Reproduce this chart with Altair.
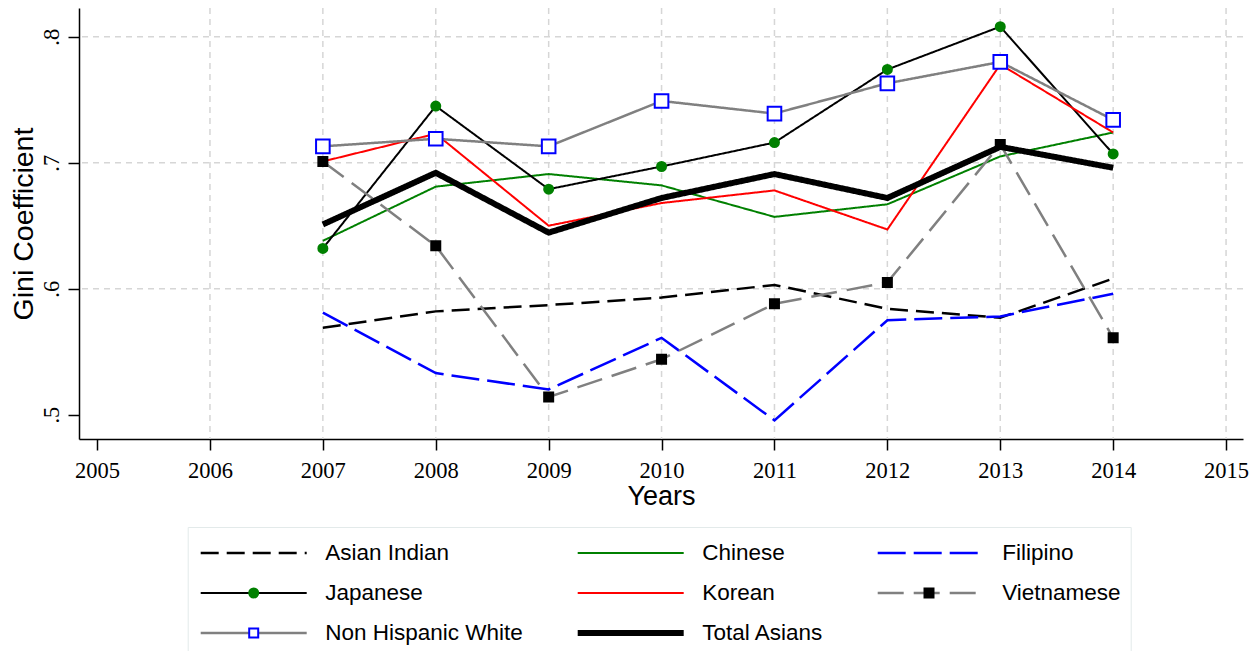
import altair as alt
import pandas as pd

# ---------------- data ----------------
years = [2007, 2008, 2009, 2010, 2011, 2012, 2013, 2014]
series_names = ["Asian Indian", "Chinese", "Filipino", "Japanese", "Korean",
                "Vietnamese", "Non Hispanic White", "Total Asians"]
asian_indian = [0.569, 0.582, 0.587, 0.593, 0.603, 0.584, 0.577, 0.608]
chinese = [0.638, 0.681, 0.691, 0.682, 0.657, 0.667, 0.705, 0.724]
filipino = [0.581, 0.533, 0.520, 0.561, 0.4955, 0.575, 0.578, 0.596]
japanese = [0.632, 0.745, 0.679, 0.697, 0.716, 0.774, 0.808, 0.707]
korean = [0.701, 0.723, 0.650, 0.668, 0.678, 0.647, 0.778, 0.724]
vietnamese = [0.701, 0.634, 0.514, 0.544, 0.588, 0.605, 0.7145, 0.561]
non_hispanic_white = [0.713, 0.719, 0.713, 0.749, 0.739, 0.763, 0.780, 0.734]
total_asians = [0.651, 0.692, 0.6445, 0.672, 0.691, 0.672, 0.7126, 0.696]

# legend columns 1 and 3 (the ones that carry markers)
legend_col1 = ["Asian Indian", "Japanese", "Non Hispanic White"]
legend_col3 = ["Filipino", "Vietnamese"]

x_ticks = [2005, 2006, 2007, 2008, 2009, 2010, 2011, 2012, 2013, 2014, 2015]
x_grid = [2006, 2007, 2008, 2009, 2010, 2011, 2012, 2013, 2014, 2015]
y_ticks = [0.5, 0.6, 0.7, 0.8]
y_grid = [0.6, 0.7, 0.8]

series_values = [asian_indian, chinese, filipino, japanese, korean,
                 vietnamese, non_hispanic_white, total_asians]
rows = []
for name, vals in zip(series_names, series_values):
    for yr, v in zip(years, vals):
        rows.append({"year": yr, "series": name, "gini": v})
df = pd.DataFrame(rows)

# ---------------- styling ----------------
line_colors = ["black", "#008000", "#0000ff", "black", "#ff0000",
               "#808080", "#808080", "black"]
line_dashes = [[18, 8], [1, 0], [28, 8], [1, 0], [1, 0], [26, 10], [1, 0], [1, 0]]
line_widths = [2.5, 2, 2.5, 2, 2, 2.5, 2.5, 6]

xscale = alt.Scale(domain=[2004.84, 2015.15], nice=False, zero=False)
yscale = alt.Scale(domain=[0.4807, 0.8228], nice=False, zero=False)

COLPAD = 51
common_leg = dict(title=None, orient="none", legendY=519,
                  labelFont="Liberation Sans", labelFontSize=22.5, labelLimit=400,
                  clipHeight=32, rowPadding=8, columnPadding=COLPAD, padding=10)
legend_lines = alt.Legend(legendX=108.7, direction="horizontal", columns=3,
                          symbolType="stroke", symbolSize=11236, labelColor="black",
                          labelOffset=15.5, symbolOffset=0, strokeColor="#e3eaea",
                          fillColor="white", **common_leg)
marker_leg = dict(direction="vertical", columns=1, symbolSize=81, symbolStrokeWidth=2,
                  symbolOffset=44.75, labelExpr="''", labelOffset=0, **common_leg)
legend_marks1 = alt.Legend(legendX=108.7, **marker_leg)
legend_marks3 = alt.Legend(legendX=784, **marker_leg)

x_axis = alt.Axis(values=x_ticks, format="d", title="Years", grid=False,
                  labelFont="Liberation Serif", labelFontSize=22.5, labelColor="black",
                  labelPadding=9, labelFlush=False, labelOverlap=False,
                  titleFont="Liberation Sans", titleFontSize=27, titleFontWeight="normal",
                  titleColor="black", titleX=582, titleY=65, titleAlign="center",
                  titleBaseline="alphabetic",
                  domainColor="black", domainWidth=1.5, tickColor="black",
                  tickWidth=1.5, tickSize=11)
y_axis = alt.Axis(values=y_ticks, title="Gini Coefficient", grid=False,
                  labelExpr="replace(format(datum.value, '.1f'), '0.', '.')",
                  labelFont="Liberation Serif", labelFontSize=22.5, labelColor="black",
                  labelAngle=270, labelAlign="center", labelBaseline="alphabetic",
                  labelPadding=10, labelFlush=False, labelOverlap=False,
                  titleFont="Liberation Sans", titleFontSize=28.5, titleFontWeight="normal",
                  titleColor="black", titleAngle=270, titleX=-47, titleY=215.5,
                  titleAlign="center", titleBaseline="alphabetic",
                  domainColor="black", domainWidth=1.5, tickColor="black",
                  tickWidth=1.5, tickSize=11)

X = alt.X("year:Q", scale=xscale, axis=x_axis)
Y = alt.Y("gini:Q", scale=yscale, axis=y_axis)

grid_x = alt.Chart(pd.DataFrame({"year": x_grid})).mark_rule(
    color="#d6d6d6", strokeWidth=1.5, strokeDash=[6, 5]
).encode(x=X)

grid_y = alt.Chart(pd.DataFrame({"gini": y_grid})).mark_rule(
    color="#d6d6d6", strokeWidth=1.5, strokeDash=[6, 5]
).encode(y=Y)

lines = alt.Chart(df).mark_line(strokeCap="butt", strokeJoin="miter").encode(
    x=X, y=Y,
    stroke=alt.Stroke("series:N", scale=alt.Scale(domain=series_names, range=line_colors),
                      legend=legend_lines),
    strokeDash=alt.StrokeDash("series:N", scale=alt.Scale(domain=series_names, range=line_dashes),
                              legend=legend_lines),
    strokeWidth=alt.StrokeWidth("series:N",
                                scale=alt.Scale(type="ordinal", domain=series_names, range=line_widths),
                                legend=legend_lines),
    order=alt.Order("year:Q"),
)

# markers for legend column 1 series (Japanese, Non Hispanic White)
points1 = alt.Chart(df).transform_filter(
    alt.FieldOneOfPredicate(field="series", oneOf=legend_col1)
).mark_point(filled=False, strokeWidth=2, opacity=1).encode(
    x=X, y=Y,
    shape=alt.Shape("series:N", scale=alt.Scale(domain=legend_col1,
                    range=["circle", "circle", "square"]), legend=legend_marks1),
    fill=alt.Fill("series:N", scale=alt.Scale(domain=legend_col1,
                  range=["transparent", "#008000", "white"]), legend=legend_marks1),
    stroke=alt.Stroke("series:N", scale=alt.Scale(domain=legend_col1,
                      range=["transparent", "#008000", "#0000ff"]), legend=legend_marks1),
    size=alt.when(alt.datum.series == "Non Hispanic White").then(alt.value(185)).otherwise(alt.value(81)),
)

# markers for legend column 3 series (Vietnamese)
points3 = alt.Chart(df).transform_filter(
    alt.FieldOneOfPredicate(field="series", oneOf=legend_col3)
).mark_point(filled=False, strokeWidth=2, opacity=1, size=81).encode(
    x=X, y=Y,
    shape=alt.Shape("series:N", scale=alt.Scale(domain=legend_col3,
                    range=["circle", "square"]), legend=legend_marks3),
    fill=alt.Fill("series:N", scale=alt.Scale(domain=legend_col3,
                  range=["transparent", "black"]), legend=legend_marks3),
    stroke=alt.Stroke("series:N", scale=alt.Scale(domain=legend_col3,
                      range=["transparent", "black"]), legend=legend_marks3),
)

ind = dict(stroke="independent", fill="independent", shape="independent",
           strokeDash="independent", strokeWidth="independent")
chart = alt.layer(grid_x, grid_y, lines, points1, points3).resolve_scale(
    **ind
).resolve_legend(
    **ind
).properties(
    width=1164, height=431,
    padding={"left": 71, "top": 0, "right": 7, "bottom": 212},
    autosize=alt.AutoSizeParams(type="none"),
    background="white",
).configure_view(strokeWidth=0)

chart.save("out.html", embed_options={"renderer": "svg", "actions": False})
